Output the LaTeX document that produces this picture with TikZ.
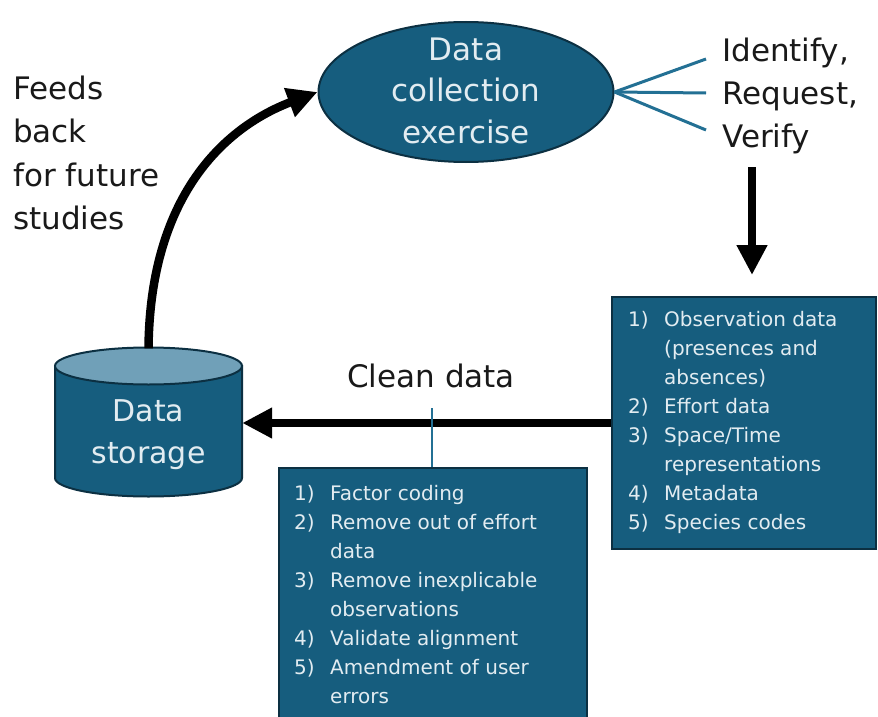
\documentclass[tikz,border=0pt]{standalone}
\usepackage{fontspec}
\setmainfont{DejaVu Sans}
\usetikzlibrary{shapes.geometric,arrows.meta}
\definecolor{dfill}{RGB}{22,93,126}
\definecolor{dborder}{RGB}{12,48,66}
\definecolor{dtop}{RGB}{112,160,184}
\definecolor{tealline}{RGB}{35,112,148}
\definecolor{boxtxt}{RGB}{226,236,241}
\definecolor{txtblack}{RGB}{25,25,25}
\newcommand\lstnum[1]{\makebox[36pt][l]{#1}}
\newcommand\lstind{\hspace*{36pt}}
\begin{document}
\begin{tikzpicture}[x=1pt,y=-1pt,
  bigtxt/.style={inner sep=0pt, text=txtblack, align=left, font=\fontsize{31pt}{43.5pt}\selectfont},
  whitetxt/.style={inner sep=0pt, text=boxtxt, align=center},
  listtxt/.style={inner sep=0pt, text=boxtxt, align=left, font=\fontsize{20pt}{29pt}\selectfont},
  databox/.style={rectangle, draw=dborder, fill=dfill, line width=2pt, inner sep=0pt},
  bigarrow/.style={line width=8.5pt, draw=black, -{Triangle[length=30pt,width=29pt]}},
  fanline/.style={draw=tealline, line width=3pt},
  linkline/.style={draw=tealline, line width=2.5pt}]
\useasboundingbox (0,0) rectangle (878,717);

% boxes
\node[databox, minimum width=264pt, minimum height=252pt] (obsbox) at (744,423) {};
\node[databox, minimum width=308pt, minimum height=262pt] (cleanbox) at (433,599) {};

% cylinder (data storage)
\path[fill=dfill, draw=dborder, line width=2pt] (55,366) -- (55,478)
  arc[start angle=180, end angle=0, x radius=93.5, y radius=18.5] -- (242,366) -- cycle;
\path[fill=dtop, draw=dborder, line width=2pt] (148.5,366) ellipse [x radius=93.5, y radius=18.5];
\node[inner sep=0pt, minimum width=187pt, minimum height=149pt] (store) at (148.5,423) {};
\node[whitetxt, anchor=north, font=\fontsize{30pt}{42pt}\selectfont] (storetxt) at (148.5,399) {Data\\storage};

% ellipse
\node[ellipse, draw=dborder, fill=dfill, line width=2pt, minimum width=295pt, minimum height=140pt, inner sep=0pt] (dce) at (466,92) {};
\node[whitetxt, anchor=north, font=\fontsize{31pt}{41.5pt}\selectfont] (dcetxt) at (466,37.4) {Data\\collection\\exercise};

% texts
\node[bigtxt, anchor=north west] (feeds) at (13,75.4) {Feeds\\back\\for future\\studies};
\node[bigtxt, anchor=north west, font=\fontsize{31pt}{43pt}\selectfont] (irv) at (722,38) {Identify,\\Request,\\Verify};
\node[bigtxt, anchor=base west] (clean) at (347,387) {Clean data};

\node[listtxt, anchor=north west] (obstxt) at (628,310.8) {\lstnum{1)}Observation data\\\lstind(presences and\\\lstind absences)\\\lstnum{2)}Effort data\\\lstnum{3)}Space/Time\\\lstind representations\\\lstnum{4)}Metadata\\\lstnum{5)}Species codes};
\node[listtxt, anchor=north west] (cleantxt) at (294,484.8) {\lstnum{1)}Factor coding\\\lstnum{2)}Remove out of effort\\\lstind data\\\lstnum{3)}Remove inexplicable\\\lstind observations\\\lstnum{4)}Validate alignment\\\lstnum{5)}Amendment of user\\\lstind errors};

% fan lines
\coordinate (i1) at (706,59);
\coordinate (i2) at (706,93);
\coordinate (i3) at (706,130);
\draw[fanline] (dce.east) -- (i1);
\draw[fanline] (dce.east) -- (i2);
\draw[fanline] (dce.east) -- (i3);

% arrows
\draw[bigarrow] (store.north) .. controls (150,190) and (230,125) .. (dce.west);
\coordinate (va) at (752,167);
\draw[bigarrow, shorten >=21pt] (va) -- (obsbox.north -| va);
\draw[bigarrow] (obsbox.west) -- (store.east);

% clean data link
\coordinate (cd) at (432,408);
\draw[linkline] (cd) -- (cleanbox.north -| cd);
\end{tikzpicture}
\end{document}
